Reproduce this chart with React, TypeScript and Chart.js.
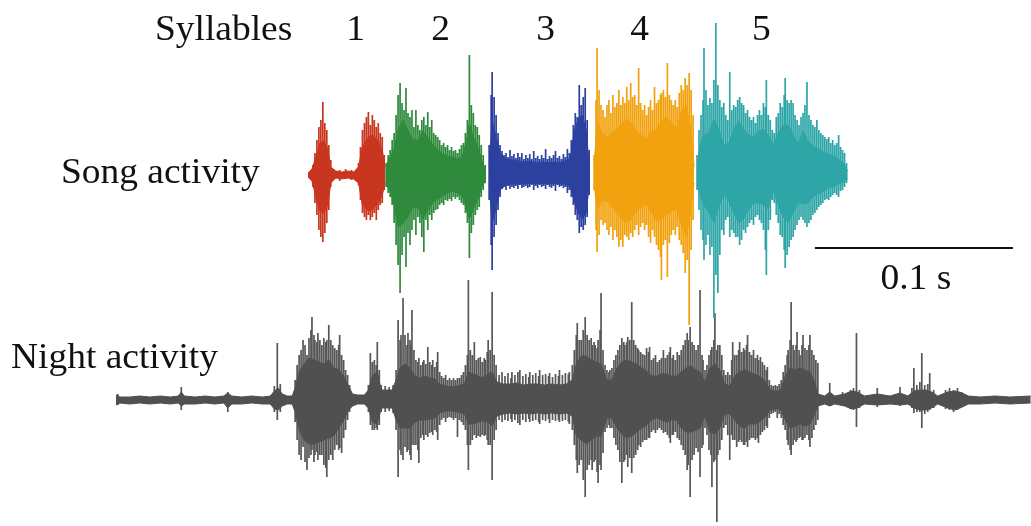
import React, { useEffect, useRef } from "react";
import { Chart, registerables } from "chart.js";

Chart.register(...registerables);

// Envelope samples: [time (ms), upward amplitude, downward amplitude]
type Env = [number, number, number];

const syllableNumbers = ["1", "2", "3", "4", "5"];
const syllableLabelMs = [24, 67, 120, 167.5, 229];
const syllableColors = ["#c9361f", "#2f8a3d", "#2c40a0", "#f2a20e", "#2ea6a7"];
const nightColor = "#505050";
const nightSpikeColor = "#575757";

const scaleBarStartMs = 256;
const scaleBarMs = 100;
const scaleBarLevel = -73;

const syl1Body: Env[] = [
  [0, 2, 2], [2, 6, 6], [4, 18, 22], [6, 32, 36], [8, 34, 38], [10, 26, 30], [11.5, 8, 8],
  [14, 4, 3], [17, 3, 4], [20, 4, 3], [23, 3, 4], [25.5, 8, 8], [27.5, 28, 30], [30.5, 38, 36],
  [33, 40, 34], [35.5, 34, 28], [37.5, 25, 20], [39, 8, 8],
];
const syl1Spikes: Env[] = [
  [2.5, 10, 12], [3.5, 22, 28], [4.5, 35, 40], [5.5, 48, 55], [6.5, 55, 62], [7.5, 73, 67],
  [8.5, 52, 58], [9.5, 45, 48], [10.5, 30, 35], [11.5, 15, 12], [13, 6, 4], [16, 5, 6], [19, 6, 4],
  [22, 5, 5], [25.5, 12, 10], [26.5, 28, 25], [27.5, 45, 38], [28.5, 52, 42], [29.5, 58, 45],
  [30.5, 63, 40], [31.5, 50, 45], [32.5, 60, 42], [33.5, 55, 38], [34.5, 48, 45], [35.5, 52, 35],
  [36.5, 42, 30], [37.5, 38, 28], [38.5, 20, 15],
];

const syl2Body: Env[] = [
  [39.5, 10, 10], [41.5, 18, 16], [43.5, 26, 30], [45.5, 45, 52], [48, 55, 48], [50.5, 44, 42],
  [53, 36, 32], [55.5, 34, 32], [58, 44, 44], [60.5, 38, 35], [63, 30, 28], [65.5, 26, 24],
  [68, 21, 21], [70.5, 19, 18], [73, 18, 16], [75.5, 16, 18], [78, 19, 21], [80, 34, 34],
  [81.5, 52, 44], [83.5, 38, 34], [85.5, 30, 26], [87.5, 16, 14], [89.5, 6, 6],
];
const syl2Spikes: Env[] = [
  [39.5, 12, 12], [40.5, 20, 18], [41.5, 25, 22], [42.5, 35, 30], [43.5, 42, 48], [44.5, 60, 70],
  [45.5, 80, 90], [46.5, 92, 118], [47.5, 72, 80], [48.5, 65, 62], [49.5, 87, 92], [50.5, 62, 58],
  [51.5, 58, 70], [52.5, 65, 55], [53.5, 48, 45], [54.5, 65, 60], [55.5, 50, 42], [56.5, 45, 48],
  [57.5, 55, 62], [58.5, 58, 77], [59.5, 50, 45], [60.5, 63, 55], [61.5, 48, 40], [62.5, 55, 45],
  [63.5, 42, 38], [64.5, 40, 35], [65.5, 38, 34], [66.5, 35, 30], [67.5, 30, 28], [68.5, 32, 30],
  [69.5, 28, 25], [70.5, 30, 26], [71.5, 25, 24], [72.5, 28, 26], [73.5, 24, 22], [74.5, 25, 24],
  [75.5, 22, 22], [76.5, 26, 25], [77.5, 30, 28], [78.5, 32, 30], [79.5, 42, 38], [80.5, 55, 48],
  [81.5, 120, 83], [82.5, 70, 58], [83.5, 62, 50], [84.5, 50, 40], [85.5, 48, 35], [86.5, 40, 32],
  [87.5, 30, 22], [88.5, 20, 15], [89.5, 10, 8],
];

const syl3Body: Env[] = [
  [91.5, 8, 8], [93, 55, 48], [95, 38, 34], [97, 22, 15], [100, 16, 10], [103, 15, 9],
  [106, 14, 9], [109, 13, 9], [112, 14, 8], [115, 12, 9], [118, 13, 8], [121, 12, 9],
  [124, 13, 8], [127, 12, 9], [130, 14, 9], [132.5, 17, 12], [134.5, 44, 26], [136.5, 56, 38],
  [138.5, 60, 44], [140.5, 45, 38], [142, 10, 10],
];
const syl3Spikes: Env[] = [
  [91.5, 30, 25], [92.5, 80, 70], [93, 103, 95], [94, 78, 62], [95, 60, 50], [96, 42, 35], [97, 30, 22],
  [98, 24, 14], [99, 20, 12], [100, 22, 15], [101, 18, 11], [102, 25, 14], [103, 19, 12], [104, 21, 13],
  [105, 17, 11], [106, 22, 14], [107, 18, 10], [108, 22, 13], [109, 16, 12], [110, 20, 11], [111, 17, 13],
  [112, 21, 12], [113, 16, 10], [114, 24, 15], [115, 17, 11], [116, 19, 13], [117, 16, 10], [118, 20, 12],
  [119, 17, 11], [120, 26, 14], [121, 16, 10], [122, 19, 12], [123, 17, 13], [124, 20, 11], [125, 24, 16],
  [126, 17, 10], [127, 19, 12], [128, 16, 11], [129, 21, 13], [130, 18, 12], [131, 26, 18], [132, 22, 15],
  [133, 35, 22], [134, 50, 30], [135, 62, 40], [136, 58, 45], [137, 90, 58], [138, 70, 52], [139, 78, 55],
  [140, 87, 50], [141, 55, 42], [142, 25, 20],
];

const syl4Body: Env[] = [
  [144.5, 10, 10], [146, 55, 34], [148.5, 42, 26], [151, 38, 26], [153.5, 42, 32], [156, 46, 38],
  [158.5, 52, 44], [161, 56, 48], [163.5, 52, 44], [166, 44, 36], [168.5, 40, 32], [171, 36, 29],
  [173.5, 44, 38], [176, 46, 46], [178.5, 54, 44], [181, 58, 40], [183.5, 52, 36], [186, 46, 34],
  [188.5, 64, 50], [191, 70, 62], [193.5, 46, 34], [195, 8, 8],
];
const syl4Spikes: Env[] = [
  [144.5, 20, 15], [145.5, 75, 55], [146, 127, 77], [147, 85, 60], [148, 70, 45], [149, 65, 50],
  [150, 58, 48], [151, 70, 55], [152, 75, 60], [153, 62, 52], [154, 80, 65], [155, 68, 55],
  [156, 72, 62], [157, 85, 72], [158, 70, 65], [159, 78, 72], [160, 72, 60], [161, 88, 62],
  [162, 75, 65], [163, 92, 58], [164, 78, 62], [165, 80, 55], [166, 70, 50], [167, 107, 60],
  [168, 72, 52], [169, 65, 48], [170, 70, 55], [171, 60, 50], [172, 68, 62], [173, 75, 68],
  [174, 65, 55], [175, 88, 62], [176, 72, 70], [177, 75, 75], [178, 80, 82], [178.5, 82, 105],
  [179.5, 85, 70], [180.5, 78, 65], [181.5, 112, 102], [182.5, 80, 68], [183.5, 75, 60], [184.5, 70, 55],
  [185.5, 75, 60], [186.5, 68, 52], [187.5, 82, 65], [188.5, 90, 70], [189.5, 85, 78], [190.5, 97, 98],
  [191.5, 90, 85], [192.5, 102, 150], [193.5, 85, 75], [194.5, 60, 45],
];

const syl5Body: Env[] = [
  [196.5, 10, 10], [198, 30, 20], [200, 40, 30], [202.5, 42, 38], [205, 56, 48], [207.5, 46, 32],
  [210, 30, 20], [212.5, 32, 26], [215, 46, 38], [217.5, 54, 48], [220, 46, 44], [222.5, 40, 34],
  [225, 38, 28], [227.5, 44, 28], [230, 46, 30], [232.5, 40, 34], [235, 30, 16], [237.5, 42, 30],
  [240, 50, 42], [242.5, 50, 48], [245, 40, 38], [247.5, 31, 28], [250, 44, 29], [252.5, 34, 28],
  [255, 29, 22], [257.5, 26, 19], [260.5, 23, 16], [263, 21, 13], [265.5, 19, 12], [268, 16, 9],
  [270.5, 12, 7], [272.5, 4, 4],
];
const syl5Spikes: Env[] = [
  [196.5, 20, 15], [197.5, 45, 35], [198.5, 60, 55], [199.5, 75, 65], [200, 127, 85], [201, 85, 70],
  [202, 70, 60], [203, 77, 80], [204, 72, 72], [205, 95, 143], [206, 152, 100], [207, 90, 118],
  [208, 75, 80], [209, 68, 55], [210, 72, 60], [211, 60, 45], [212, 55, 42], [213, 103, 62],
  [214, 65, 55], [215, 70, 58], [216, 68, 62], [217, 75, 62], [218, 78, 70], [219, 72, 65],
  [220, 70, 55], [221, 62, 58], [222, 65, 52], [223, 58, 48], [224, 55, 45], [225, 58, 50],
  [226, 52, 42], [227, 60, 40], [228, 65, 45], [229, 60, 48], [230, 72, 55], [231, 68, 75],
  [231.5, 95, 100], [232.5, 60, 55], [233.5, 55, 45], [234.5, 45, 25], [235.5, 42, 28], [236.5, 58, 40],
  [237.5, 62, 48], [238.5, 72, 60], [239.5, 68, 62], [240.5, 80, 75], [241, 97, 93], [242, 75, 80],
  [243, 72, 72], [244, 75, 65], [245, 72, 62], [246, 60, 55], [247, 55, 50], [248, 50, 45],
  [249, 58, 42], [250, 62, 45], [251, 70, 48], [252, 93, 52], [253, 60, 48], [254, 55, 45],
  [255, 50, 40], [256, 48, 38], [257, 55, 35], [258, 45, 32], [259, 42, 30], [260, 40, 28],
  [261, 38, 25], [262, 36, 24], [263, 38, 25], [264, 32, 22], [265, 35, 20], [266, 30, 18],
  [267, 32, 20], [268, 40, 22], [269, 28, 16], [270, 25, 15], [271, 22, 12], [272, 12, 8],
];

const nightBody: Env[] = [
  [-97, 5, 5], [-95, 3, 3], [-90, 3, 4], [-85, 4, 3], [-80, 3, 4], [-74.5, 4, 3], [-69.5, 3, 4],
  [-65.5, 4, 3], [-64, 8, 6], [-62.5, 4, 4], [-57, 3, 4], [-52, 4, 3], [-47, 3, 4], [-42.5, 4, 3],
  [-40.5, 7, 8], [-38.5, 4, 4], [-33.5, 3, 4], [-28.5, 4, 3], [-23, 3, 4], [-19, 4, 4], [-17, 9, 9],
  [-15, 12, 10], [-13, 6, 6], [-10.5, 4, 4], [-8, 4, 4], [-6.5, 12, 12], [-4.5, 28, 30], [-2, 36, 40],
  [0.5, 42, 44], [3, 40, 44], [5.5, 38, 42], [8, 36, 40], [10.5, 40, 38], [13, 32, 36], [15.5, 30, 28],
  [18, 24, 20], [20.5, 14, 10], [22.5, 6, 6], [25, 5, 4], [28.5, 5, 4], [30.5, 10, 8], [32.5, 24, 22],
  [35, 28, 24], [37, 10, 8], [39.5, 10, 8], [42.5, 10, 8], [44.5, 20, 20], [46.5, 32, 28],
  [49, 36, 28], [51.5, 32, 28], [54, 24, 22], [56.5, 22, 20], [59, 24, 20], [61.5, 22, 19],
  [64, 21, 18], [66.5, 16, 13], [69.5, 14, 11], [72.5, 13, 11], [75.5, 14, 12], [79, 16, 14],
  [81, 28, 24], [83.5, 26, 24], [86, 24, 22], [88, 22, 21], [91, 26, 22], [93, 28, 26], [95.5, 18, 16],
  [98.5, 16, 14], [102, 16, 13], [105.5, 17, 14], [109, 15, 13], [112, 16, 14], [116, 16, 13],
  [119.5, 15, 14], [123, 16, 13], [127, 15, 14], [130.5, 16, 13], [133.5, 20, 16], [135.5, 36, 36],
  [138, 44, 40], [140.5, 44, 44], [143, 40, 40], [145.5, 38, 36], [148, 36, 36], [151, 20, 18],
  [153.5, 20, 18], [156, 32, 28], [158.5, 38, 34], [161, 40, 38], [163.5, 38, 36], [166, 36, 32],
  [168.5, 32, 28], [170.5, 30, 26], [173.5, 24, 20], [176, 24, 18], [178.5, 26, 20], [181, 26, 22],
  [183.5, 24, 20], [186, 24, 20], [188.5, 28, 28], [191, 32, 32], [193.5, 34, 32], [196, 30, 30],
  [198, 28, 28], [200.5, 18, 16], [203, 32, 32], [205.5, 36, 34], [208, 30, 28], [210.5, 16, 14],
  [213, 14, 14], [215.5, 24, 20], [218, 28, 26], [220.5, 30, 28], [223, 28, 24], [225.5, 26, 24],
  [228, 24, 22], [230.5, 20, 18], [233.5, 10, 10], [236, 9, 9], [238.5, 9, 9], [241, 24, 20],
  [243.5, 32, 28], [246, 30, 26], [248.5, 32, 24], [251, 30, 26], [253.5, 28, 24], [255.5, 20, 16],
  [257.5, 6, 6], [261, 4, 4], [263.5, 8, 6], [266, 4, 4], [271, 6, 6], [274.5, 9, 9], [277.5, 8, 8],
  [281, 4, 4], [287.5, 6, 5], [294, 4, 4], [299, 7, 5], [303, 4, 4], [306, 9, 8], [309, 10, 10],
  [312, 10, 10], [315, 8, 8], [318, 4, 4], [323, 8, 8], [327, 9, 10], [330.5, 7, 7], [333.5, 4, 4],
  [339.5, 3, 4], [347, 4, 3], [354.5, 3, 4], [365, 4, 3],
];
const nightSpikes: Env[] = [
  [-96, 6, 5], [-64, 13, 10], [-40.5, 8, 12], [-17, 14, 12], [-15.5, 57, 20], [-14, 16, 12],
  [-6.5, 20, 22], [-5.5, 35, 40], [-4.5, 45, 55], [-3.5, 50, 60], [-2.5, 60, 47], [-1.5, 55, 62],
  [-0.5, 45, 70], [0.5, 62, 58], [1.5, 70, 55], [2, 83, 50], [3, 65, 62], [3.5, 60, 55], [4.5, 58, 52],
  [5, 67, 60], [6, 60, 55], [7, 55, 55], [8, 62, 65], [9, 58, 68], [9.5, 60, 77], [10.5, 75, 60],
  [11.5, 60, 55], [12.5, 55, 60], [13.5, 52, 50], [14.5, 50, 45], [15.5, 55, 50], [16, 65, 48],
  [17, 45, 53], [18, 40, 38], [19, 30, 30], [20, 25, 20], [21, 15, 12],
  [30.5, 15, 12], [31.5, 47, 25], [32.5, 38, 30], [33.5, 40, 30], [34.5, 35, 28], [35, 58, 30],
  [36, 30, 25], [37, 15, 12], [39, 14, 12], [41, 13, 11], [43, 15, 13],
  [44.5, 30, 30], [45.5, 80, 77], [46.5, 60, 50], [47, 65, 55], [48, 102, 60], [49, 65, 47],
  [50, 55, 52], [50.5, 67, 50], [51.5, 60, 55], [52, 55, 60], [52.5, 90, 45], [53.5, 50, 45],
  [54.5, 40, 45], [55.5, 38, 50], [56, 42, 63], [57, 35, 38], [58, 38, 35], [58.5, 40, 40],
  [59.5, 36, 35], [60.5, 53, 37], [61.5, 38, 33], [62.5, 35, 32], [63, 40, 35], [64, 33, 30],
  [65, 38, 32], [65.5, 48, 40], [66.5, 28, 25], [67.5, 24, 20], [68.5, 22, 18], [69.5, 25, 22],
  [70.5, 20, 18], [71.5, 22, 17], [72.5, 20, 18], [73.5, 22, 20], [74.5, 20, 18], [75.5, 22, 37],
  [76.5, 22, 20], [77.5, 25, 22], [78.5, 28, 25], [79.5, 35, 30], [80.5, 45, 45], [81, 120, 70],
  [82, 50, 45], [83, 45, 40], [84, 58, 35], [85, 40, 38], [86, 42, 36], [87, 43, 37], [88, 38, 35],
  [89, 42, 36], [89.5, 40, 35], [90.5, 48, 40], [91, 60, 45], [92, 50, 45], [93, 108, 80],
  [94, 45, 40], [95, 35, 30],
  [96.5, 25, 20], [98, 28, 22], [99.5, 24, 20], [101, 27, 21], [102.5, 22, 19], [103, 28, 22],
  [104.5, 25, 20], [106, 28, 23], [107, 30, 25], [108.5, 24, 20], [110, 26, 22], [111.5, 23, 19],
  [112, 28, 22], [113.5, 25, 21], [115, 27, 20], [116.5, 24, 22], [117, 30, 24], [118.5, 25, 20],
  [120, 26, 21], [121.5, 24, 19], [122, 27, 23], [123.5, 23, 20], [125, 26, 21], [126.5, 24, 20],
  [127, 30, 22], [128.5, 25, 21], [130, 27, 20], [131.5, 26, 22], [132, 28, 24], [133.5, 35, 30],
  [134.5, 50, 45], [135.5, 65, 60], [136, 77, 73], [137, 60, 65], [138, 60, 60], [139, 70, 80],
  [140, 83, 97], [141, 65, 70], [142, 60, 65], [143, 62, 60], [143.5, 55, 70], [144.5, 58, 62],
  [145, 55, 60], [146, 52, 72], [146.5, 60, 83], [147.5, 70, 65], [148, 107, 70], [149, 50, 53],
  [150, 35, 32], [151, 30, 28], [152, 28, 25], [152.5, 30, 28], [153.5, 32, 28], [154.5, 40, 38],
  [155.5, 45, 45], [156.5, 50, 50], [157.5, 55, 62], [158.5, 62, 83], [159.5, 58, 62], [160, 55, 60],
  [161, 58, 55], [161.5, 63, 67], [162.5, 60, 58], [163.5, 98, 73], [164.5, 60, 58], [165.5, 55, 55],
  [166.5, 52, 50], [167, 50, 45], [168, 48, 47], [169, 46, 42], [170, 45, 40], [171, 52, 40],
  [172, 48, 38], [172.5, 53, 38], [173.5, 40, 32], [174.5, 42, 30], [175.5, 45, 33], [176.5, 38, 30],
  [177.5, 40, 28], [178.5, 42, 30], [179.5, 50, 33], [180.5, 42, 32], [181.5, 45, 35], [182.5, 48, 38],
  [183, 53, 43], [184, 42, 35], [184.5, 45, 35], [185.5, 40, 32], [186.5, 48, 38], [187.5, 45, 40],
  [188.5, 50, 45], [189.5, 55, 50], [190.5, 60, 55], [191.5, 67, 70], [192, 60, 65], [193, 73, 97],
  [194, 58, 60], [195, 55, 55], [196, 50, 48], [197, 55, 52], [198, 110, 77], [199, 45, 48],
  [199.5, 40, 45], [200.5, 30, 28], [201.5, 35, 35], [202.5, 45, 50], [203.5, 50, 55], [204, 53, 87],
  [205, 60, 62], [205.5, 87, 60], [206.5, 50, 122], [207, 55, 55], [208, 55, 50], [209, 45, 40],
  [210, 30, 28], [211, 25, 25], [212, 28, 35], [213, 25, 60], [214, 40, 35], [214.5, 58, 40],
  [215.5, 45, 40], [216.5, 45, 47], [217.5, 50, 42], [218, 58, 40], [219, 48, 42], [220, 52, 45],
  [220.5, 50, 45], [221.5, 55, 42], [222, 65, 47], [223, 48, 40], [224, 45, 38], [225, 50, 38],
  [226, 42, 40], [227, 45, 38], [227.5, 40, 43], [228.5, 43, 35], [229.5, 38, 32], [230.5, 35, 30],
  [231.5, 30, 26], [232, 33, 28], [233, 20, 18], [234, 15, 14], [235, 14, 13], [236, 15, 12],
  [237, 14, 18], [238, 16, 14], [239, 20, 18], [240, 28, 25], [241, 35, 30], [242, 45, 40],
  [242.5, 50, 45], [243.5, 60, 50], [244, 98, 55], [245, 55, 45], [245.5, 50, 40], [246.5, 55, 42],
  [247, 68, 40], [248, 50, 38], [248.5, 45, 37], [249.5, 55, 40], [250, 65, 40], [251, 52, 38],
  [252, 50, 35], [253, 55, 40], [253.5, 65, 47], [254.5, 50, 38], [255.5, 45, 30], [256.5, 40, 25],
  [257.5, 37, 20], [263.5, 17, 6], [270, 8, 6], [274, 10, 9], [275.5, 12, 10], [277, 67, 27],
  [278.5, 10, 8], [287.5, 12, 7], [299, 13, 6], [305, 12, 8], [306, 32, 13], [307.5, 15, 12],
  [309, 18, 12], [310, 47, 28], [311.5, 15, 14], [313, 16, 12], [314, 27, 10], [316, 10, 8],
  [322, 10, 9], [324, 12, 10], [326, 10, 12], [328, 12, 10], [330, 8, 7],
];

const songSyllables = [
  { body: syl1Body, spikes: syl1Spikes },
  { body: syl2Body, spikes: syl2Spikes },
  { body: syl3Body, spikes: syl3Spikes },
  { body: syl4Body, spikes: syl4Spikes },
  { body: syl5Body, spikes: syl5Spikes },
];

function envelopeDatasets(body: Env[], spikes: Env[], color: string, spikeColor: string, axis: string, order: number) {
  const spikePts: { x: number; y: number | null }[] = [];
  spikes.forEach(([t, up, down]) => {
    spikePts.push({ x: t, y: up });
    spikePts.push({ x: t, y: -down });
    spikePts.push({ x: t, y: null });
  });
  return [
    {
      type: "line" as const,
      data: body.map(([t, up]) => ({ x: t, y: up })),
      borderColor: color,
      borderWidth: 1,
      pointRadius: 0,
      fill: false,
      tension: 0,
      yAxisID: axis,
      order,
    },
    {
      type: "line" as const,
      data: body.map(([t, , down]) => ({ x: t, y: -down })),
      borderColor: color,
      backgroundColor: color,
      borderWidth: 1,
      pointRadius: 0,
      fill: "-1",
      tension: 0,
      yAxisID: axis,
      order,
    },
    {
      type: "line" as const,
      data: spikePts,
      borderColor: spikeColor,
      borderWidth: 1.7,
      pointRadius: 0,
      fill: false,
      spanGaps: false,
      tension: 0,
      yAxisID: axis,
      order,
    },
  ];
}

const labelPlugin = {
  id: "figureLabels",
  afterDraw(chart: any) {
    const ctx: CanvasRenderingContext2D = chart.ctx;
    const xs = chart.scales.x;
    const ys = chart.scales.ySong;
    const write = (text: string, px: number, py: number, align: CanvasTextAlign) => {
      ctx.save();
      ctx.translate(px, py);
      ctx.scale(1.07, 1);
      ctx.textAlign = align;
      ctx.textBaseline = "alphabetic";
      ctx.fillText(text, 0, 0);
      ctx.restore();
    };
    ctx.save();
    ctx.fillStyle = "#111111";
    ctx.font = "35px 'Liberation Serif', 'Times New Roman', serif";
    write("Syllables", 155, 40, "left");
    syllableNumbers.forEach((n, i) => write(n, xs.getPixelForValue(syllableLabelMs[i]), 40, "center"));
    write("Song activity", 61, 183, "left");
    write("Night activity", 11, 368, "left");

    const x0 = xs.getPixelForValue(scaleBarStartMs);
    const x1 = xs.getPixelForValue(scaleBarStartMs + scaleBarMs);
    const yb = ys.getPixelForValue(scaleBarLevel);
    ctx.strokeStyle = "#111111";
    ctx.lineWidth = 2;
    ctx.beginPath();
    ctx.moveTo(x0, yb);
    ctx.lineTo(x1, yb);
    ctx.stroke();
    write("0.1 s", (x0 + x1) / 2 + 2, yb + 41, "center");
    ctx.restore();
  },
};

export default function App() {
  const canvasRef = useRef<HTMLCanvasElement | null>(null);

  useEffect(() => {
    document.body.style.margin = "0";
    const canvas = canvasRef.current;
    if (!canvas) return;
    const datasets: any[] = [];
    songSyllables.forEach((s, i) => {
      datasets.push(...envelopeDatasets(s.body, s.spikes, syllableColors[i], syllableColors[i], "ySong", 0));
    });
    datasets.push(...envelopeDatasets(nightBody, nightSpikes, nightColor, nightSpikeColor, "yNight", 1));

    const pxPerMs = 1.98;
    const originPx = 308;
    const chart = new Chart(canvas, {
      type: "line",
      data: { datasets },
      options: {
        animation: false,
        responsive: false,
        events: [],
        layout: { padding: 0 },
        plugins: { legend: { display: false }, tooltip: { enabled: false } },
        scales: {
          x: { type: "linear", display: false, min: -originPx / pxPerMs, max: (1031 - originPx) / pxPerMs },
          ySong: { type: "linear", display: false, min: -351, max: 175 },
          yNight: { type: "linear", display: false, min: -126, max: 400 },
        },
      },
      plugins: [labelPlugin],
    });
    return () => chart.destroy();
  }, []);

  return (
    <div style={{ width: 1031, height: 526, background: "#fff" }}>
      <canvas ref={canvasRef} width={1031} height={526} style={{ display: "block" }} />
    </div>
  );
}
